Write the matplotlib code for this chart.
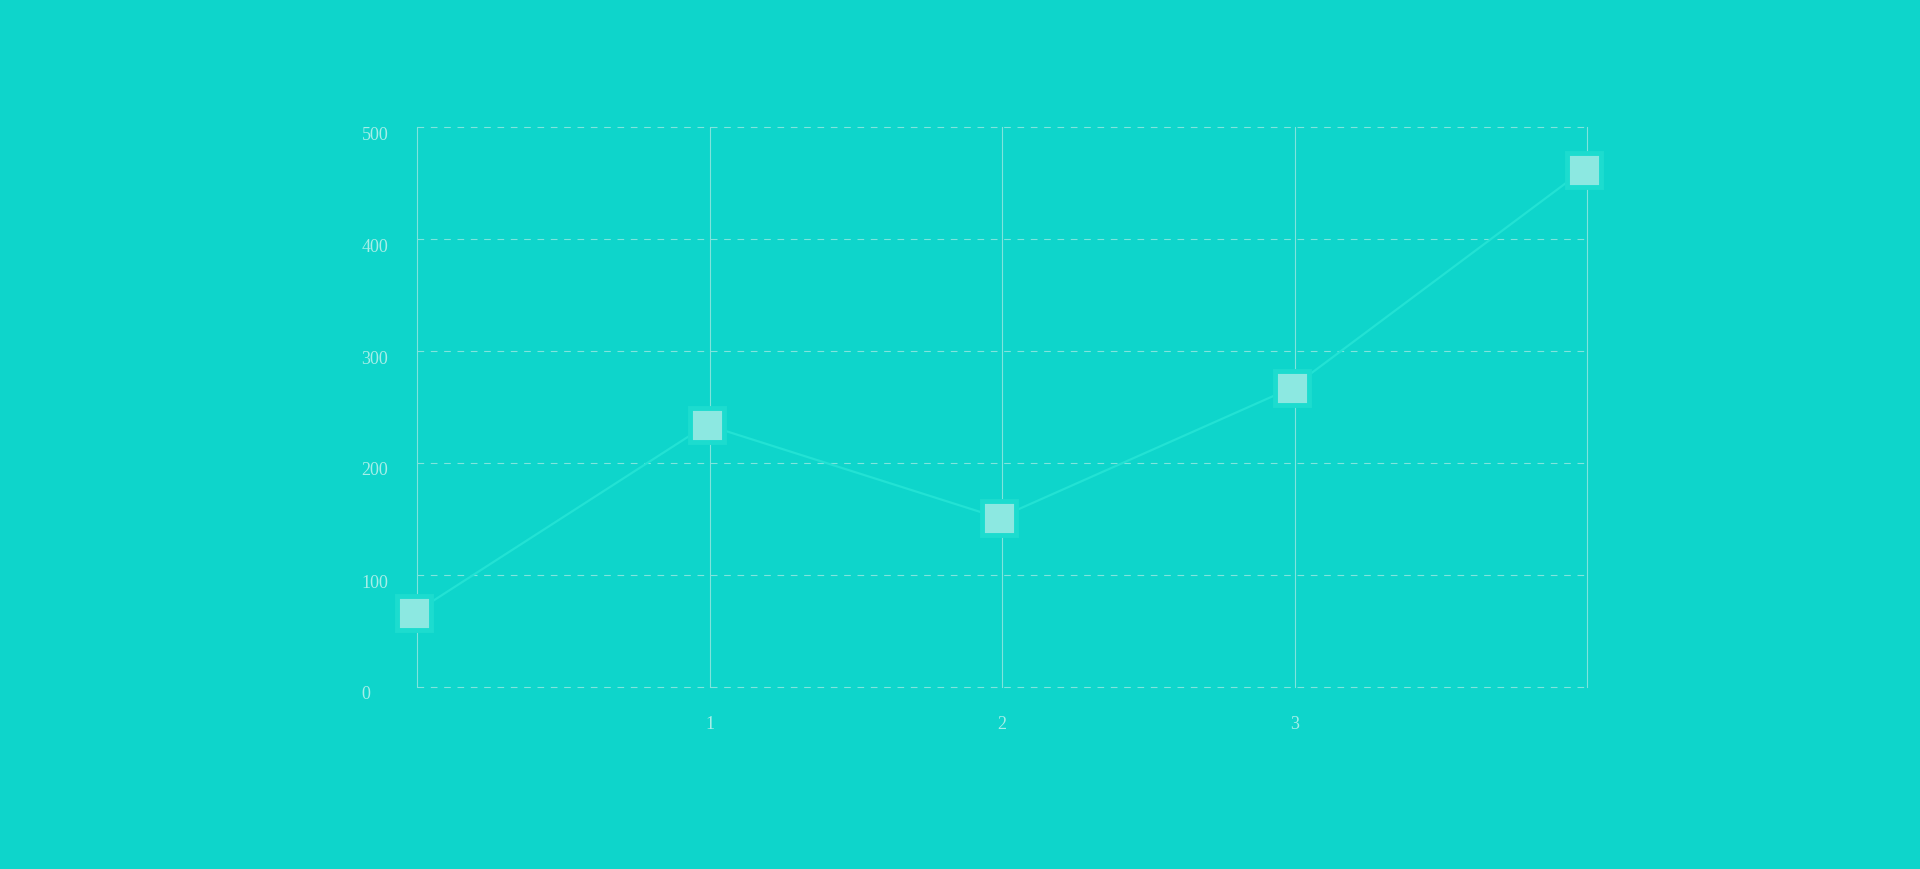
import matplotlib.pyplot as plt
from matplotlib.transforms import ScaledTranslation

# values
x_vals = [0, 1, 2, 3, 4]
y_vals = [66, 234, 151, 267, 462]
y_ticks = [0, 100, 200, 300, 400, 500]
x_ticks = [1, 2, 3]

BG = '#0ed5cb'
GRID = '#7fe4dd'
TXT = '#a6eee8'

fig = plt.figure(figsize=(19.2, 8.7), dpi=100, facecolor=BG)
ax = fig.add_axes([417 / 1920, 1 - 688 / 870, 1170 / 1920, 560 / 870])
ax.set_facecolor(BG)

ax.set_xlim(0, 4)
ax.set_ylim(0, 500)

# vertical solid lines and horizontal dashed lines
for xv in x_vals:
    ax.axvline(xv, color=GRID, lw=0.8, zorder=1, clip_on=False)
for yv in y_ticks:
    ax.axhline(yv, color=GRID, lw=0.8, ls=(0, (6, 6)), zorder=1, clip_on=False)

# markers sit a little left of the grid lines in the original
shift = ScaledTranslation(-3 / 100, 0, fig.dpi_scale_trans)
ax.plot(x_vals, y_vals, color='#22e2d4', lw=1.6, zorder=2,
        transform=ax.transData + shift)
ax.plot(x_vals, y_vals, ls='none', marker='s', ms=25, mfc='#8ce8e1',
        mec='#1cdccf', mew=3.5, zorder=3, clip_on=False,
        transform=ax.transData + shift)

for s in ax.spines.values():
    s.set_visible(False)

ax.set_yticks(y_ticks)
ax.set_xticks(x_ticks)
ax.tick_params(length=0, colors=TXT, labelsize=13)
ax.tick_params(axis='y', pad=40)
ax.tick_params(axis='x', pad=20)
for lab in ax.get_yticklabels() + ax.get_xticklabels():
    lab.set_family('Liberation Serif')
off = ScaledTranslation(0, -5 / 100, fig.dpi_scale_trans)
for lab in ax.get_yticklabels():
    lab.set_horizontalalignment('left')
    lab.set_transform(lab.get_transform() + off)

fig.savefig('out.png', dpi=100, facecolor=BG)
